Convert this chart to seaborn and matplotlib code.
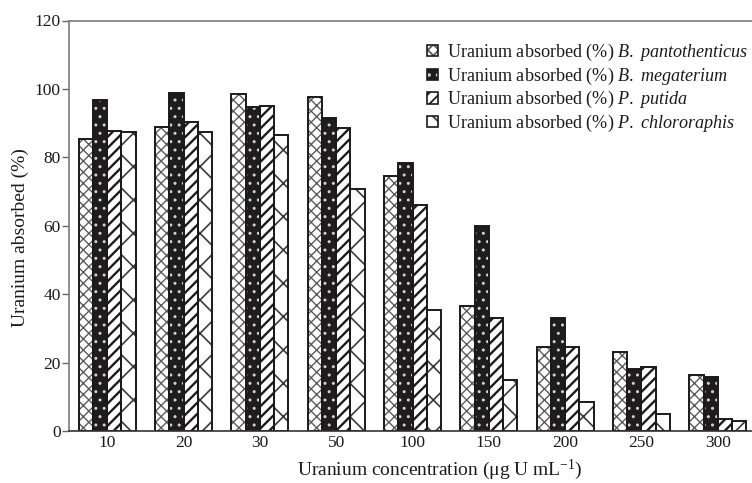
import matplotlib
matplotlib.use("Agg")
import matplotlib.pyplot as plt
import matplotlib.patches as mpatches
import pandas as pd
import seaborn as sns

# Uranium uptake (%) by four bacterial strains at each initial concentration
concentrations = ["10", "20", "30", "50", "100", "150", "200", "250", "300"]
species = ["B. pantothenticus", "B. megaterium", "P. putida", "P. chlororaphis"]
b_pantothenticus = [85.3, 89.0, 98.5, 97.7, 74.5, 36.5, 24.6, 23.1, 16.4]
b_megaterium = [96.7, 98.9, 94.7, 91.4, 78.4, 60.0, 33.0, 18.0, 15.9]
p_putida = [87.6, 90.3, 95.1, 88.6, 66.2, 33.0, 24.6, 18.8, 3.4]
p_chlororaphis = [87.3, 87.5, 86.4, 70.7, 35.5, 15.0, 8.5, 4.9, 3.0]
y_ticks = [0, 20, 40, 60, 80, 100, 120]

sns.set_theme(style="white")
plt.rcParams["font.family"] = ["Liberation Serif", "DejaVu Serif"]
plt.rcParams["mathtext.fontset"] = "custom"
plt.rcParams["mathtext.rm"] = "Liberation Serif"
plt.rcParams["mathtext.it"] = "Liberation Serif:italic"
plt.rcParams["hatch.linewidth"] = 1.3

df = pd.DataFrame({
    "conc": concentrations * 4,
    "species": [s for s in species for _ in concentrations],
    "value": b_pantothenticus + b_megaterium + p_putida + p_chlororaphis,
})

# face colour, hatch pattern, hatch colour, hatch line width for each strain
styles = {
    "B. pantothenticus": ("white", "xxx", "#5c5c5c", 1.0),
    "B. megaterium": ("#1f1c1d", "..", "#d0d0d0", 1.0),
    "P. putida": ("white", "///", "#1c1c1c", 1.7),
    "P. chlororaphis": ("white", "x", "#3a3a3a", 1.2),
}
# the legend swatches are small, so the sparse pattern needs a denser variant there
legend_hatch = {"P. chlororaphis": "\\\\"}
outline = "#1a1a1a"


def style_patch(p, sp, hatch=None):
    face, hh, hcol, hlw = styles[sp]
    p.set_facecolor(face)
    p.set_hatch(hatch or hh)
    p.set_edgecolor(hcol)
    p.set_linewidth(0)
    if hasattr(p, "set_hatch_linewidth"):
        p.set_hatch_linewidth(hlw)


fig = plt.figure(figsize=(7.52, 4.83), dpi=100)
ax = fig.add_axes([69 / 752, 1 - 431 / 483, (756 - 69) / 752, (431 - 20.5) / 483])

sns.barplot(data=df, x="conc", y="value", hue="species",
            order=concentrations, hue_order=species,
            palette=[styles[s][0] for s in species], saturation=1,
            width=0.75, gap=0, legend=False, ax=ax)

for cont, sp in zip(ax.containers, species):
    for bar in cont:
        style_patch(bar, sp)
        ax.add_patch(mpatches.Rectangle(bar.get_xy(), bar.get_width(), bar.get_height(),
                                        fill=False, edgecolor=outline, linewidth=1.4,
                                        zorder=bar.get_zorder() + 0.1))

ax.set_ylim(0, 120)
ax.set_xlim(-0.5, len(concentrations) - 0.5)
ax.set_yticks(y_ticks)
ax.set_yticklabels([str(t) for t in y_ticks], fontsize=12.5)
ax.set_xticks(range(len(concentrations)))
ax.set_xticklabels(concentrations, fontsize=12.5)
ax.set_xticks([i + 0.5 for i in range(-1, len(concentrations))], minor=True)
ax.tick_params(axis="x", which="major", length=0, pad=3, colors="#1a1a1a")
ax.tick_params(axis="x", which="minor", length=5, width=1, color="#555555", direction="out")
ax.tick_params(axis="y", which="major", length=5, width=1, direction="out",
               left=True, pad=1, labelcolor="#1a1a1a", color="#666666")

for side in ["left", "bottom", "top"]:
    ax.spines[side].set_visible(True)
    ax.spines[side].set_color("#7a7a7a")
    ax.spines[side].set_linewidth(1.2)
ax.spines["bottom"].set_color("#333333")
ax.spines["right"].set_visible(False)

ax.set_xlabel("Uranium concentration (μg U mL$^{-1}$)", fontsize=14, color="#1a1a1a")
ax.set_ylabel("Uranium absorbed (%)", fontsize=14, color="#1a1a1a")
ax.xaxis.set_label_coords((440 - 69) / (756 - 69), -(470 - 431) / (431 - 20.5))
ax.yaxis.set_label_coords(-(69 - 20) / (756 - 69), (431 - 238) / (431 - 20.5))
ax.xaxis.label.set_va("center")
ax.yaxis.label.set_va("center")

handles = []
labels = []
for sp in species:
    fill = mpatches.Patch()
    style_patch(fill, sp, legend_hatch.get(sp))
    edge = mpatches.Patch(fill=False, edgecolor=outline, linewidth=1.2)
    handles.append((fill, edge))
    genus, name = sp.split(" ")
    labels.append("Uranium absorbed (%) $\\mathit{" + genus + "\\ " + name + "}$")

leg = fig.legend(handles, labels, loc="upper left", bbox_to_anchor=(427 / 752, 1 - 42 / 483),
                 frameon=False, fontsize=13.1, handlelength=0.58, handleheight=0.58,
                 handletextpad=0.5, labelspacing=0.14, borderaxespad=0, borderpad=0)
for t in leg.get_texts():
    t.set_color("#1a1a1a")

fig.savefig("out.png", dpi=100)
